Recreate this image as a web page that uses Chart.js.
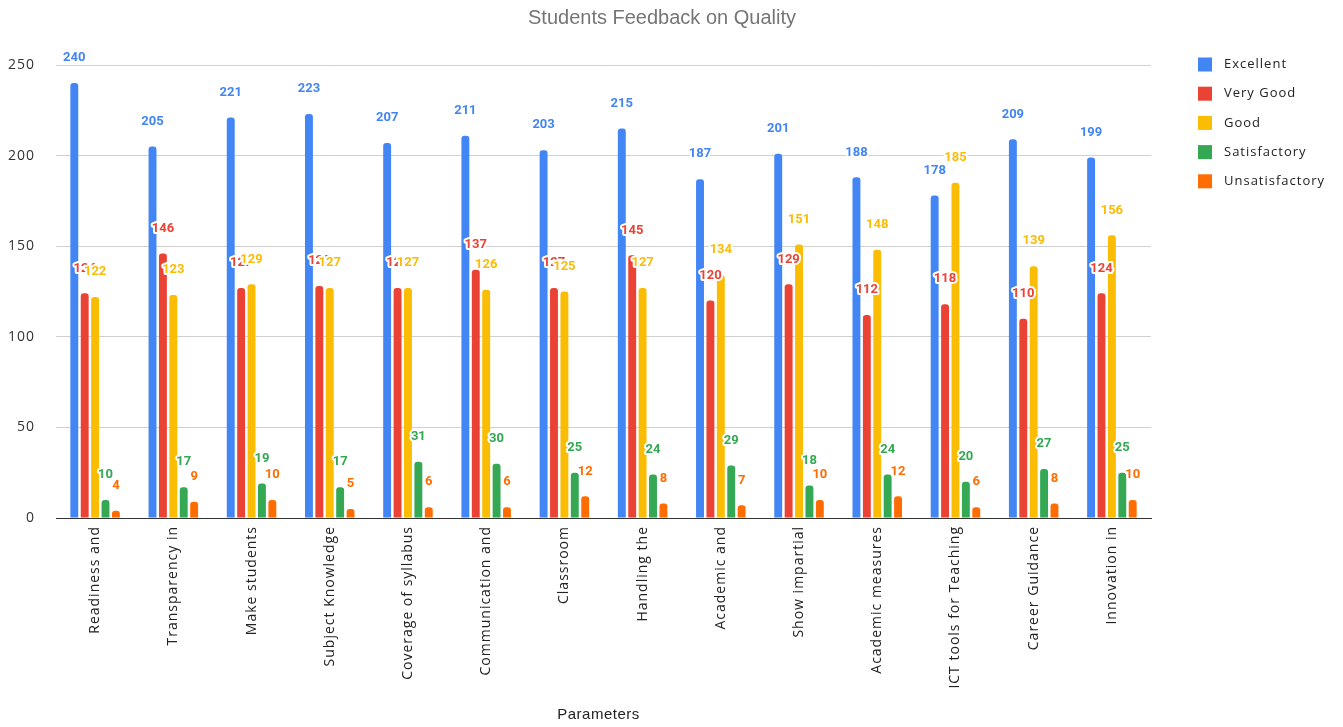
<!DOCTYPE html>
<html>
<head>
<meta charset="utf-8">
<script src="https://cdn.jsdelivr.net/npm/chart.js@4/dist/chart.umd.min.js"></script>
<style>
  html, body { margin: 0; padding: 0; background: #fff; }
  #wrap { width: 1343px; height: 727px; }
</style>
</head>
<body>
<div id="wrap"><canvas id="feedback_plot"></canvas></div>
<script>
'use strict';

const parameters = [
    'Readiness and', 'Transparency in', 'Make students', 'Subject Knowledge',
    'Coverage of syllabus', 'Communication and', 'Classroom', 'Handling the',
    'Academic and', 'Show impartial', 'Academic measures', 'ICT tools for Teaching',
    'Career Guidance', 'Innovation in'
];
const excellent      = [240, 205, 221, 223, 207, 211, 203, 215, 187, 201, 188, 178, 209, 199];
const veryGood       = [124, 146, 127, 128, 127, 137, 127, 145, 120, 129, 112, 118, 110, 124];
const good           = [122, 123, 129, 127, 127, 126, 125, 127, 134, 151, 148, 185, 139, 156];
const satisfactory   = [10, 17, 19, 17, 31, 30, 25, 24, 29, 18, 24, 20, 27, 25];
const unsatisfactory = [4, 9, 10, 5, 6, 6, 12, 8, 7, 10, 12, 6, 8, 10];
const yTicks = [0, 50, 100, 150, 200, 250];

const chartTitle = 'Students Feedback on Quality';
const xTitle = 'Parameters';
const colors = ['#4285F4', '#EA4335', '#FBBC04', '#34A853', '#FF6D01'];

function makeSet(label, data, color) {
    return {
        label: label,
        data: data,
        backgroundColor: color,
        borderRadius: { topLeft: 3, topRight: 3 },
        borderSkipped: 'start',
        categoryPercentage: 0.665,
        barPercentage: 0.76
    };
}

// the sheets export spaces the axis letters out a bit
const spacing = {
    id: 'spacing',
    beforeDraw(chart) {
        chart.ctx.letterSpacing = '1px';
    }
};

// values drawn above each bar, white halo like the sheets export
const valueLabels = {
    id: 'valueLabels',
    afterDatasetsDraw(chart) {
        const ctx = chart.ctx;
        ctx.save();
        ctx.letterSpacing = '0px';
        ctx.font = 'bold 13px Roboto';
        ctx.textAlign = 'center';
        ctx.textBaseline = 'middle';
        ctx.lineJoin = 'round';
        chart.data.datasets.forEach((ds, d) => {
            const meta = chart.getDatasetMeta(d);
            meta.data.forEach((bar, i) => {
                const txt = String(ds.data[i]);
                const y = bar.y - 25;
                ctx.lineWidth = 4;
                ctx.strokeStyle = '#fff';
                ctx.strokeText(txt, bar.x, y);
                ctx.fillStyle = ds.backgroundColor;
                ctx.fillText(txt, bar.x, y);
            });
        });
        ctx.restore();
    }
};

// legend on the right plus the two titles (centred on the page, not the plot)
const decorations = {
    id: 'decorations',
    afterDraw(chart) {
        const ctx = chart.ctx;
        const area = chart.chartArea;
        ctx.save();
        ctx.letterSpacing = '1px';
        ctx.font = '13px "Open Sans"';
        ctx.textBaseline = 'middle';
        ctx.textAlign = 'left';
        chart.data.datasets.forEach((ds, d) => {
            const cy = area.top - 0.5 + d * 29.2;
            const bx = area.right + 47;
            ctx.fillStyle = ds.backgroundColor;
            ctx.fillRect(bx, cy - 7, 14, 14);
            ctx.fillStyle = '#222';
            ctx.fillText(ds.label, bx + 26, cy);
        });

        ctx.letterSpacing = '0px';
        ctx.textAlign = 'center';
        ctx.fillStyle = '#757575';
        ctx.font = '20px "Liberation Sans"';
        ctx.fillText(chartTitle, 662, 18);

        ctx.letterSpacing = '0.5px';
        ctx.fillStyle = '#222';
        ctx.font = '15px "Liberation Sans"';
        ctx.fillText(xTitle, (area.left + area.right) / 2 - 5, 715);
        ctx.restore();
    }
};

const feedback_plot = new Chart('feedback_plot', {
    type: 'bar',
    data: {
        labels: parameters,
        datasets: [
            makeSet('Excellent', excellent, colors[0]),
            makeSet('Very Good', veryGood, colors[1]),
            makeSet('Good', good, colors[2]),
            makeSet('Satisfactory', satisfactory, colors[3]),
            makeSet('Unsatisfactory', unsatisfactory, colors[4])
        ]
    },
    options: {
        responsive: true,
        maintainAspectRatio: false,
        animation: false,
        layout: { padding: { left: 0, right: 192, top: 65, bottom: 0 } },
        plugins: {
            legend: { display: false },
            tooltip: { enabled: false },
            title: { display: false }
        },
        scales: {
            x: {
                grid: { display: false, drawTicks: false },
                border: { display: true, color: '#333', width: 1 },
                ticks: {
                    autoSkip: false,
                    minRotation: 90,
                    maxRotation: 90,
                    padding: 8,
                    color: '#222',
                    font: { family: '"Open Sans"', size: 14 }
                },
                afterFit(scale) { scale.height = 209; }
            },
            y: {
                min: 0,
                max: 250,
                afterBuildTicks(scale) { scale.ticks = yTicks.map(v => ({ value: v })); },
                grid: { color: '#d0d0d0', drawTicks: false },
                border: { display: false },
                ticks: {
                    padding: 21,
                    color: '#333',
                    font: { family: '"Open Sans"', size: 14 }
                },
                afterFit(scale) { scale.width = 56; }
            }
        }
    },
    plugins: [spacing, valueLabels, decorations]
});
</script>
</body>
</html>
